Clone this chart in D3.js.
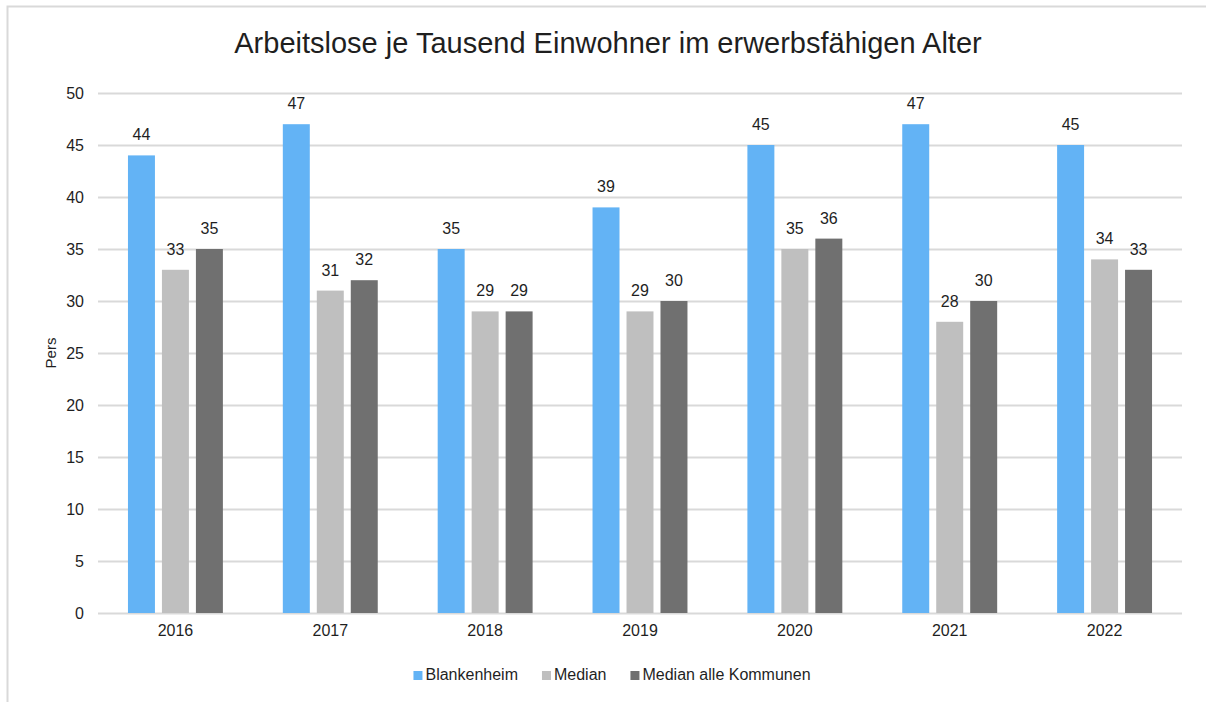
<!DOCTYPE html>
<html>
<head>
<meta charset="utf-8">
<script src="https://cdn.jsdelivr.net/npm/d3@7"></script>
<style>
body { margin: 0; background: #fff; }
text { font-family: "Liberation Sans", Arial, sans-serif; fill: #1f1f1f; }
</style>
</head>
<body>
<div id="chart"></div>
<script>

// DATA

const years = ["2016", "2017", "2018", "2019", "2020", "2021", "2022"];
const seriesNames = ["Blankenheim", "Median", "Median alle Kommunen"];
const blankenheim = [44, 47, 35, 39, 45, 47, 45];
const median = [33, 31, 29, 29, 35, 28, 34];
const medianAlle = [35, 32, 29, 30, 36, 30, 33];
const yTicks = [0, 5, 10, 15, 20, 25, 30, 35, 40, 45, 50];
const colors = ["#63b3f5", "#bfbfbf", "#707070"];

const seriesValues = [blankenheim, median, medianAlle];
const data = years.map(function(y, i) {
    return { year: y, values: seriesNames.map(function(s, j) { return { name: s, value: seriesValues[j][i] }; }) };
});

// MAKE SVG CANVAS

const width = 1206;
const height = 702;
const margin = {top: 93, left: 98, right: 24, bottom: 89};
const svg = d3.select("#chart")
    .append("svg")
    .attr("width", width)
    .attr("height", height);

// chart border (runs off the right and bottom edge)
svg.append("path")
    .attr("d", `M7.5,${height} V6.5 H${width}`)
    .attr("fill", "none")
    .attr("stroke", "#d9d9d9")
    .attr("stroke-width", 2);

// SCALES

const x0 = d3.scaleBand()
    .domain(years)
    .range([margin.left, width - margin.right])
    .paddingInner(0.387)
    .paddingOuter(0.1935);

const x1 = d3.scaleBand()
    .domain(seriesNames)
    .range([0, x0.bandwidth()])
    .paddingInner(0.206);

const yScale = d3.scaleLinear()
    .domain([0, 50])
    .range([height - margin.bottom, margin.top]);

const color = d3.scaleOrdinal().domain(seriesNames).range(colors);

// GRID + AXIS

const yAxis = svg.append("g")
    .attr("transform", `translate(${margin.left},0)`)
    .call(d3.axisLeft(yScale).tickValues(yTicks).tickSize(-(width - margin.left - margin.right)).tickPadding(14));
yAxis.select(".domain").remove();
yAxis.selectAll("line").attr("stroke", "#d9d9d9").attr("stroke-width", 2);
yAxis.selectAll("text").attr("font-size", 16).attr("fill", "#1f1f1f");

const xAxis = svg.append("g")
    .attr("transform", `translate(0,${height - margin.bottom})`)
    .call(d3.axisBottom(x0).tickSize(0).tickPadding(12));
xAxis.select(".domain").remove();
xAxis.selectAll("text").attr("font-size", 16).attr("fill", "#1f1f1f");

// BARS

const groups = svg.selectAll(".year")
    .data(data)
    .enter()
    .append("g")
        .attr("class", "year")
        .attr("transform", function(d) { return `translate(${x0(d.year)},0)`; });

groups.selectAll("rect")
    .data(function(d) { return d.values; })
    .enter()
    .append("rect")
        .attr("x", function(d) { return x1(d.name); })
        .attr("y", function(d) { return yScale(d.value); })
        .attr("width", x1.bandwidth())
        .attr("height", function(d) { return yScale(0) - yScale(d.value); })
        .attr("fill", function(d) { return color(d.name); });

groups.selectAll(".lbl")
    .data(function(d) { return d.values; })
    .enter()
    .append("text")
        .attr("class", "lbl")
        .attr("x", function(d) { return x1(d.name) + x1.bandwidth() / 2; })
        .attr("y", function(d) { return yScale(d.value) - 15; })
        .attr("text-anchor", "middle")
        .attr("font-size", 16)
        .text(function(d) { return d.value; });

// TITLES

svg.append("text")
    .attr("x", 608)
    .attr("y", 53)
    .attr("text-anchor", "middle")
    .attr("font-size", 29)
    .text("Arbeitslose je Tausend Einwohner im erwerbsfähigen Alter");

svg.append("text")
    .attr("transform", "rotate(-90)")
    .attr("x", -(margin.top + (height - margin.bottom - margin.top) / 2))
    .attr("y", 56)
    .attr("text-anchor", "middle")
    .attr("font-size", 15)
    .text("Pers");

// LEGEND

const legend = svg.append("g");
let lx = 0;
seriesNames.forEach(function(s) {
    const item = legend.append("g").attr("transform", `translate(${lx},0)`);
    item.append("rect")
        .attr("x", 0)
        .attr("y", -9)
        .attr("width", 9)
        .attr("height", 9)
        .attr("fill", color(s));
    const t = item.append("text")
        .attr("x", 12)
        .attr("y", 0)
        .attr("font-size", 16)
        .text(s);
    lx += 12 + t.node().getComputedTextLength() + 24;
});
const legendWidth = lx - 24;
legend.attr("transform", `translate(${612 - legendWidth / 2},680)`);

</script>
</body>
</html>
